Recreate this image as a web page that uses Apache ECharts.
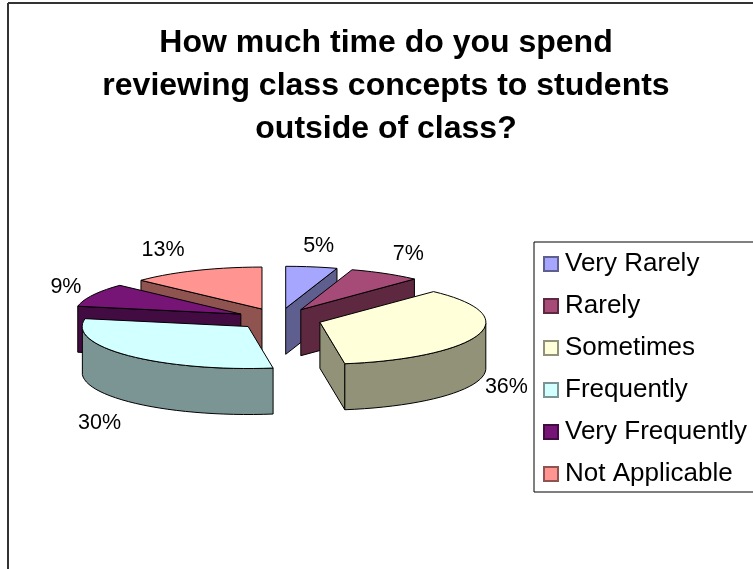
<!DOCTYPE html>
<html>
<head>
<meta charset="utf-8">
<style>
    html, body { margin: 0; padding: 0; background: #fff; }
    #chart { width: 753px; height: 569px; }
</style>
<script src="https://cdn.jsdelivr.net/npm/echarts@6/dist/echarts.min.js"></script>
</head>
<body>
<div id="chart"></div>
<script>
const titleLines = ['How much time do you spend', 'reviewing class concepts to students', 'outside of class?'];
const categories = ['Very Rarely', 'Rarely', 'Sometimes', 'Frequently', 'Very Frequently', 'Not Applicable'];
const percents = [5, 7, 35.6, 30.4, 9, 13];

const topColors = ['#A6A6FF', '#A64A78', '#FFFFD9', '#D2FFFF', '#771577', '#FF9490'];
const sideColors = ['#5F5F8F', '#5E2840', '#929278', '#7B9594', '#420B42', '#8F5350'];
// label offset from the outer edge of its slice, px
const labelNudge = [[7, -21], [23, -19], [28, 6], [-29, 21], [-27, -8], [-33, -20]];

const DEPTH = 46;      // pie thickness, px
const EXPLODE = 0.258; // slice pull-out, in pie radii
const total = percents.reduce((a, b) => a + b, 0);

function toRad(pct) {
    return pct / total * Math.PI * 2;
}

function drop(p) {
    return [p[0], p[1] + DEPTH];
}

function sliceItem(idx) {
    return function (params, api) {
        const value = api.value(0);
        const start = toRad(api.value(1));
        const end = start + toRad(value);
        const mid = (start + end) / 2;
        const ax = EXPLODE * Math.sin(mid);
        const ay = EXPLODE * Math.cos(mid);
        const onRim = a => api.coord([ax + Math.sin(a), ay + Math.cos(a)]);
        const apex = api.coord([ax, ay]);

        const rim = [];
        const steps = Math.max(4, Math.round((end - start) / 0.06));
        for (let i = 0; i <= steps; i++) {
            rim.push(onRim(start + (end - start) * i / steps));
        }

        const line = { stroke: '#000', lineWidth: 1, lineJoin: 'round' };
        const side = Object.assign({ fill: sideColors[idx] }, line);
        const children = [];

        // radial wall, only the one that faces the viewer
        if (Math.sin(start) < 0) {
            const p = onRim(start);
            children.push({ type: 'polygon', shape: { points: [apex, p, drop(p), drop(apex)] }, style: side });
        }
        if (Math.sin(end) > 0) {
            const p = onRim(end);
            children.push({ type: 'polygon', shape: { points: [apex, p, drop(p), drop(apex)] }, style: side });
        }

        // outer wall, the front half of the rim
        const front = [];
        for (let i = 0; i <= steps; i++) {
            const a = start + (end - start) * i / steps;
            if (Math.cos(a) <= 0) front.push(rim[i]);
        }
        if (front.length > 1) {
            children.push({
                type: 'polygon',
                shape: { points: front.concat(front.map(drop).reverse()) },
                style: side
            });
        }

        children.push({
            type: 'polygon',
            shape: { points: [apex].concat(rim) },
            style: Object.assign({ fill: topColors[idx] }, line)
        });

        const edge = onRim(mid);
        const isFront = Math.cos(mid) < 0;
        children.push({
            type: 'text',
            x: edge[0] + labelNudge[idx][0],
            y: edge[1] + (isFront ? DEPTH : 0) + labelNudge[idx][1],
            style: {
                text: Math.round(value / total * 100) + '%',
                fill: '#000',
                font: '21.5px "Liberation Sans", Arial, sans-serif',
                align: 'center',
                verticalAlign: 'middle'
            }
        });

        return { type: 'group', children: children };
    };
}

// back slices first
const drawOrder = categories
    .map((name, i) => i)
    .sort((a, b) => {
        const midOf = i => toRad(percents.slice(0, i).reduce((s, v) => s + v, 0) + percents[i] / 2);
        return Math.cos(midOf(b)) - Math.cos(midOf(a));
    });

const chart = echarts.init(document.getElementById('chart'), null, { renderer: 'canvas' });
chart.setOption({
    animation: false,
    backgroundColor: '#fff',
    title: {
        text: titleLines.join('\n'),
        left: 381,
        top: 17,
        textAlign: 'center',
        textStyle: {
            fontFamily: '"Liberation Sans", Arial, sans-serif',
            fontSize: 32,
            fontWeight: 'bold',
            lineHeight: 43,
            color: '#000'
        }
    },
    grid: { left: 30, width: 498, top: 256, height: 126 },
    xAxis: { type: 'value', min: -1.5, max: 1.5, show: false },
    yAxis: { type: 'value', min: -1.5, max: 1.5, show: false },
    legend: {
        orient: 'vertical',
        left: 534,
        top: 242,
        padding: [9, 30, 5, 9],
        backgroundColor: '#fff',
        borderColor: '#000',
        borderWidth: 1,
        icon: 'rect',
        itemWidth: 14,
        itemHeight: 14,
        itemGap: 16,
        data: categories,
        selectedMode: false,
        textStyle: {
            fontFamily: '"Liberation Sans", Arial, sans-serif',
            fontSize: 26,
            color: '#000',
            padding: [0, 0, 0, 2]
        }
    },
    graphic: [
        { type: 'line', shape: { x1: 8, y1: 3, x2: 753, y2: 3 }, style: { stroke: '#333', lineWidth: 2 }, z: 0 },
        { type: 'line', shape: { x1: 8, y1: 3, x2: 8, y2: 569 }, style: { stroke: '#333', lineWidth: 2 }, z: 0 }
    ],
    series: drawOrder.map(i => ({
        type: 'custom',
        name: categories[i],
        coordinateSystem: 'cartesian2d',
        itemStyle: { color: topColors[i], borderColor: sideColors[i], borderWidth: 1 },
        data: [[percents[i], percents.slice(0, i).reduce((s, v) => s + v, 0)]],
        encode: { x: 0, y: 1 },
        renderItem: sliceItem(i)
    }))
});
</script>
</body>
</html>
